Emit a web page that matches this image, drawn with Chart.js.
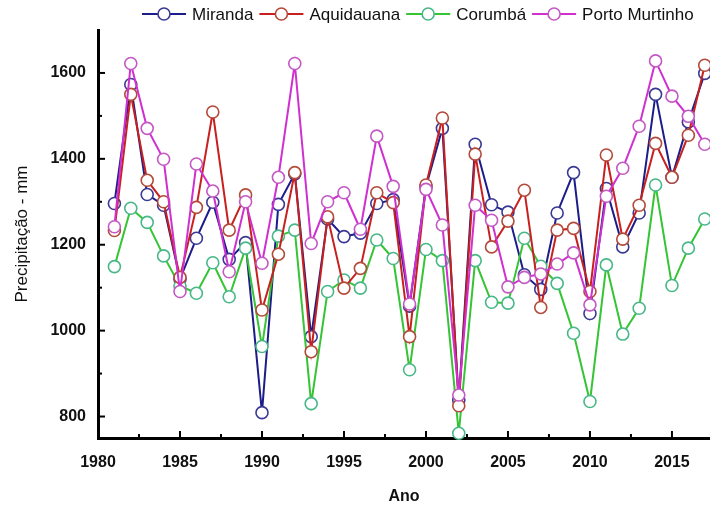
<!DOCTYPE html>
<html>
<head>
<meta charset="utf-8">
<script src="https://cdn.jsdelivr.net/npm/chart.js@4.4.1/dist/chart.umd.min.js"></script>
<style>
  html, body { margin: 0; background: #fff; }
  #wrap { width: 710px; height: 506px; position: relative; }
</style>
</head>
<body>
<div id="wrap"><canvas id="chart"></canvas></div>
<script>
// Annual rainfall (mm) per station
const years = [1981, 1982, 1983, 1984, 1985, 1986, 1987, 1988, 1989, 1990,
  1991, 1992, 1993, 1994, 1995, 1996, 1997, 1998, 1999, 2000,
  2001, 2002, 2003, 2004, 2005, 2006, 2007, 2008, 2009, 2010,
  2011, 2012, 2013, 2014, 2015, 2016, 2017];

const miranda = [1296, 1573, 1317, 1292, 1120, 1215, 1299, 1166, 1205, 809,
  1294, 1365, 986, 1260, 1219, 1227, 1296, 1305, 1057, 1335,
  1471, 838, 1434, 1293, 1276, 1130, 1096, 1274, 1368, 1040,
  1331, 1195, 1274, 1550, 1357, 1486, 1599];

const aquidauana = [1233, 1550, 1350, 1300, 1124, 1287, 1509, 1234, 1316, 1048,
  1178, 1368, 951, 1265, 1099, 1145, 1321, 1298, 986, 1339,
  1495, 825, 1411, 1195, 1255, 1327, 1054, 1234, 1238, 1091,
  1409, 1213, 1292, 1436, 1357, 1455, 1618];

const corumba = [1149, 1285, 1252, 1174, 1104, 1087, 1158, 1079, 1192, 963,
  1220, 1234, 830, 1091, 1118, 1099, 1211, 1168, 909, 1189,
  1163, 761, 1163, 1066, 1064, 1215, 1150, 1110, 994, 835,
  1153, 992, 1052, 1339, 1105, 1192, 1260];

const portoMurtinho = [1242, 1622, 1471, 1399, 1091, 1388, 1325, 1137, 1300, 1157,
  1357, 1622, 1203, 1300, 1321, 1236, 1453, 1336, 1062, 1329,
  1246, 850, 1292, 1257, 1102, 1124, 1132, 1155, 1181, 1060,
  1313, 1378, 1476, 1628, 1546, 1499, 1434];

const seriesNames = ["Miranda", "Aquidauana", "Corumbá", "Porto Murtinho"];
const seriesValues = [miranda, aquidauana, corumba, portoMurtinho];
const lineColors = ["#1c1c8a", "#c8201e", "#34c434", "#d030d0"];
const markerColors = ["#3a3a94", "#b44a3a", "#48b888", "#c458c4"];
const drawOrder = [4, 2, 3, 1];

const xTickStep = 5;
const yTickStep = 200;

const datasets = seriesNames.map((name, i) => ({
  label: name,
  data: years.map((yr, j) => ({ x: yr, y: seriesValues[i][j] })),
  borderColor: lineColors[i],
  borderWidth: 2,
  pointRadius: 6,
  pointHoverRadius: 6,
  pointBackgroundColor: "#ffffff",
  pointBorderColor: markerColors[i],
  pointBorderWidth: 1.6,
  tension: 0,
  clip: false,
  order: drawOrder[i],
}));

// axis ticks point inwards, with a small minor tick halfway between majors
const innerTicks = {
  id: "innerTicks",
  afterDraw(chart) {
    const { ctx, scales } = chart;
    const x = scales.x;
    const y = scales.y;
    ctx.save();
    ctx.strokeStyle = "#000";
    ctx.lineWidth = 2;
    const seg = (x1, y1, x2, y2) => {
      ctx.beginPath();
      ctx.moveTo(x1, y1);
      ctx.lineTo(x2, y2);
      ctx.stroke();
    };
    x.ticks.forEach((t) => {
      const px = x.getPixelForValue(t.value);
      if (t.value > x.min) seg(px, y.bottom, px, y.bottom - 7);
      const mid = x.getPixelForValue(t.value + xTickStep / 2);
      if (mid < x.right - 2) seg(mid, y.bottom, mid, y.bottom - 4);
    });
    y.ticks.forEach((t) => {
      const py = y.getPixelForValue(t.value);
      seg(x.left, py, x.left + 7, py);
      const mid = y.getPixelForValue(t.value + yTickStep / 2);
      if (mid > y.top + 2) seg(x.left, mid, x.left + 4, mid);
    });
    ctx.restore();
  },
};

// legend row "—o— Name" across the top
const lineLegend = {
  id: "lineLegend",
  afterDraw(chart) {
    const ctx = chart.ctx;
    ctx.save();
    ctx.font = "17px 'Liberation Sans', Arial, sans-serif";
    ctx.textBaseline = "middle";
    let cx = 142;
    const cy = 14;
    seriesNames.forEach((name, i) => {
      ctx.strokeStyle = lineColors[i];
      ctx.lineWidth = 2;
      ctx.beginPath();
      ctx.moveTo(cx, cy);
      ctx.lineTo(cx + 44, cy);
      ctx.stroke();
      ctx.beginPath();
      ctx.arc(cx + 22, cy, 6, 0, Math.PI * 2);
      ctx.fillStyle = "#fff";
      ctx.fill();
      ctx.strokeStyle = markerColors[i];
      ctx.lineWidth = 1.6;
      ctx.stroke();
      ctx.fillStyle = "#111";
      ctx.fillText(name, cx + 50, cy + 1);
      cx += 50 + ctx.measureText(name).width + 6;
    });
    ctx.restore();
  },
};

const tickFont = { family: "'Liberation Sans', Arial, sans-serif", size: 16, weight: "bold" };

new Chart(document.getElementById("chart"), {
  type: "line",
  data: { datasets },
  plugins: [innerTicks, lineLegend],
  options: {
    responsive: true,
    maintainAspectRatio: false,
    animation: false,
    layout: { autoPadding: false, padding: { top: 30, right: 0, bottom: 0, left: 0 } },
    plugins: {
      legend: { display: false },
      tooltip: { enabled: false },
    },
    scales: {
      x: {
        type: "linear",
        min: 1980,
        max: 2017.32,
        afterFit: (s) => { s.height = 68; },
        ticks: {
          stepSize: xTickStep,
          includeBounds: false,
          color: "#111",
          padding: 15,
          font: tickFont,
          callback: (v) => String(v),
        },
        grid: { display: false, drawTicks: false },
        border: { display: true, color: "#000", width: 3 },
        title: {
          display: true,
          text: "Ano",
          color: "#111",
          padding: { top: 0, bottom: 0 },
          font: tickFont,
        },
      },
      y: {
        min: 750,
        max: 1700,
        afterFit: (s) => { s.width = 98; },
        ticks: {
          stepSize: yTickStep,
          includeBounds: false,
          color: "#111",
          padding: 12,
          font: tickFont,
          callback: (v) => String(v),
        },
        grid: { display: false, drawTicks: false },
        border: { display: true, color: "#000", width: 3 },
        title: {
          display: true,
          text: "Precipitação - mm",
          color: "#111",
          padding: { top: 12, bottom: 0 },
          font: { family: "'Liberation Sans', Arial, sans-serif", size: 17 },
        },
      },
    },
  },
});
</script>
</body>
</html>
